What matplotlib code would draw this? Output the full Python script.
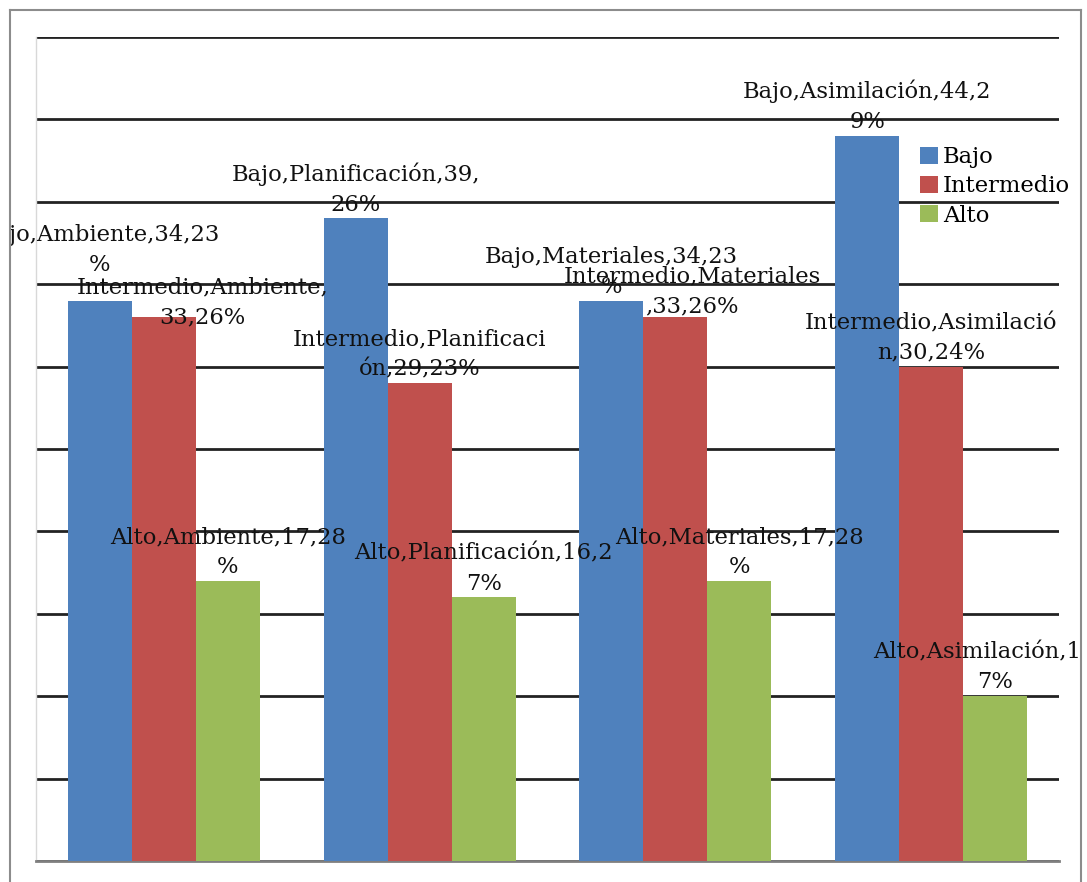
import matplotlib
matplotlib.use("Agg")
import matplotlib.pyplot as plt
import numpy as np
from matplotlib.lines import Line2D
from matplotlib.patches import Rectangle

categories = ["Ambiente", "Planificación", "Materiales", "Asimilación"]
series = ["Bajo", "Intermedio", "Alto"]
bajo = [34, 39, 34, 44]
intermedio = [33, 29, 33, 30]
alto = [17, 16, 17, 10]
labels = [
    ["Bajo,Ambiente,34,23\n%", "Bajo,Planificación,39,\n26%", "Bajo,Materiales,34,23\n%", "Bajo,Asimilación,44,2\n9%"],
    ["Intermedio,Ambiente,\n33,26%", "Intermedio,Planificaci\nón,29,23%", "Intermedio,Materiales\n,33,26%", "Intermedio,Asimilació\nn,30,24%"],
    ["Alto,Ambiente,17,28\n%", "Alto,Planificación,16,2\n7%", "Alto,Materiales,17,28\n%", "Alto,Asimilación,10,1\n7%"],
]

colors = ["#4F81BD", "#C0504D", "#9BBB59"]
W, H, DPI = 1087, 882, 100
fig = plt.figure(figsize=(W / DPI, H / DPI), dpi=DPI)
ax = fig.add_axes([36 / W, 1 - 861 / H, (1059 - 36) / W, (861 - 37) / H])

x = np.arange(len(categories))
width = 0.25
data = [bajo, intermedio, alto]
for i, vals in enumerate(data):
    ax.bar(x + (i - 1) * width, vals, width, color=colors[i], label=series[i], zorder=3)

ax.set_xlim(-0.5, len(categories) - 0.5)
ax.set_ylim(0, 50)
ax.set_yticks(np.arange(0, 51, 5))
ax.set_xticks([])
ax.tick_params(left=False, labelleft=False)
ax.set_yticklabels([])
ax.grid(axis="y", color="#222222", linewidth=2.0, zorder=1)
for s in ["top", "right"]:
    ax.spines[s].set_visible(False)
ax.spines["left"].set_color("#d8d8d8")
ax.spines["left"].set_linewidth(1.0)
ax.spines["bottom"].set_color("#7f7f7f")
ax.spines["bottom"].set_linewidth(2.0)

font = "DejaVu Serif"
fs = 16.3
nudges = {(0, 0): (0, 16), (1, 0): (28, -10), (1, 2): (12, -2)}
for i, vals in enumerate(data):
    for j, v in enumerate(vals):
        dx, dy = nudges.get((i, j), (0, 0))
        ax.annotate(labels[i][j], (x[j] + (i - 1) * width, v), xytext=(dx, 2 + dy),
                    textcoords="offset points", ha="center", va="bottom",
                    fontsize=fs, family=font, color="#111111", zorder=5,
                    linespacing=1.45, annotation_clip=False, clip_on=False)

# white margins outside the chart frame (text is cut at the frame)
fx0, fx1, fy0 = 10 / W, 1081 / W, 1 - 10 / H
for rx, ry, rw, rh in [(0, 0, fx0, 1), (fx1, 0, 1 - fx1, 1), (0, fy0, 1, 1 - fy0)]:
    fig.add_artist(Rectangle((rx, ry), rw, rh, transform=fig.transFigure,
                             facecolor="white", edgecolor="none", zorder=20))
for xs, ys in [([fx0, fx0], [0, fy0]), ([fx0, fx1], [fy0, fy0]), ([fx1, fx1], [fy0, 0])]:
    fig.add_artist(Line2D(xs, ys, transform=fig.transFigure, color="#8c8c8c",
                          linewidth=1.5, zorder=21))

leg = fig.legend(loc="upper left", bbox_to_anchor=(911 / W, 1 - 137 / H), frameon=False,
                 prop={"family": font, "size": fs}, handlelength=0.8, handleheight=0.8,
                 handletextpad=0.2, labelspacing=0.32, borderaxespad=0)
leg.set_zorder(6)

fig.savefig("out.png", dpi=DPI)
